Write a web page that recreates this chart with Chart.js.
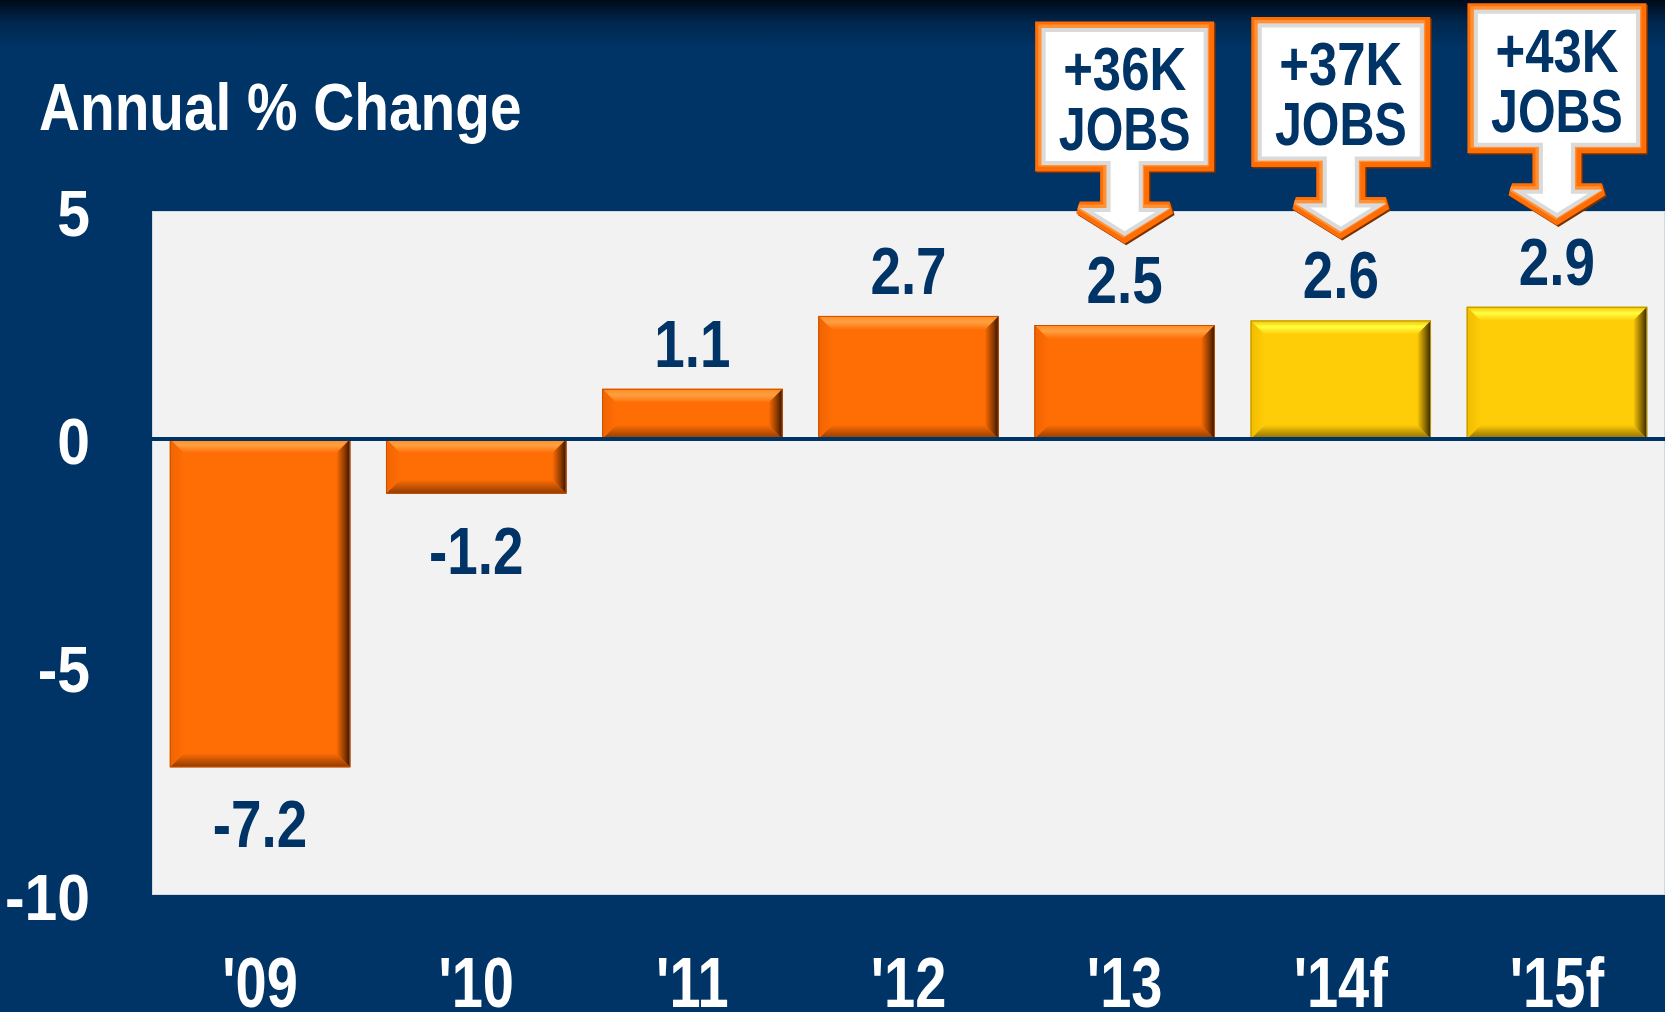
<!DOCTYPE html>
<html>
<head>
<meta charset="utf-8">
<script src="https://cdn.jsdelivr.net/npm/chart.js@4/dist/chart.umd.min.js"></script>
<style>
  html, body { margin: 0; padding: 0; }
  body {
    width: 1665px; height: 1012px; overflow: hidden;
    background: linear-gradient(to bottom, #000a18 0px, #00264d 22px, #003366 48px, #003366 100%);
  }
  #wrap { position: absolute; left: 0; top: 0; width: 1665px; height: 1012px; }
</style>
</head>
<body>
<div id="wrap"><canvas id="c" width="1665" height="1012"></canvas></div>
<script>
// ---- data ----
const categories = ["'09", "'10", "'11", "'12", "'13", "'14f", "'15f"];
const values = [-7.2, -1.2, 1.1, 2.7, 2.5, 2.6, 2.9];
const barKinds = ['actual', 'actual', 'actual', 'actual', 'actual', 'forecast', 'forecast'];
const calloutTop = ['', '', '', '', '+36K', '+37K', '+43K'];
const calloutBottom = ['', '', '', '', 'JOBS', 'JOBS', 'JOBS'];
const yTickValues = [5, 0, -5, -10];
const chartTitle = 'Annual % Change';

// ---- styles ----
const FONT = '"Liberation Sans", Arial, sans-serif';
const NAVY = '#003366';
const palettes = {
  actual:   { base: '#ff6d05', hi: '#ffa040', topEdge: '#ff8a20', left: '#f06400', bottom: '#8c3a00', right: '#2e1200', outline: '#c85000' },
  forecast: { base: '#ffcc08', hi: '#ffff40', topEdge: '#f0c000', left: '#f0bc00', bottom: '#8a6a00', right: '#2e2400', outline: '#b89000' }
};

// draws text horizontally condensed (narrow-face look)
function narrowText(ctx, txt, x, y, size, sx, align, color) {
  ctx.save();
  ctx.translate(x, y);
  ctx.scale(sx, 1);
  ctx.font = 'bold ' + size + 'px ' + FONT;
  ctx.fillStyle = color;
  ctx.textAlign = align;
  ctx.textBaseline = 'alphabetic';
  ctx.fillText(txt, 0, 0);
  ctx.restore();
}

function poly(ctx, pts, fill) {
  ctx.beginPath();
  ctx.moveTo(pts[0][0], pts[0][1]);
  for (let k = 1; k < pts.length; k++) ctx.lineTo(pts[k][0], pts[k][1]);
  ctx.closePath();
  ctx.fillStyle = fill;
  ctx.fill();
}

const plotBgPlugin = {
  id: 'plotBg',
  beforeDraw(chart) {
    const { ctx, chartArea: a } = chart;
    ctx.save();
    ctx.fillStyle = '#f2f2f2';
    ctx.fillRect(a.left, a.top, a.right - a.left, a.bottom - a.top);
    ctx.strokeStyle = 'rgba(200,210,225,0.8)';
    ctx.lineWidth = 1;
    ctx.strokeRect(a.left + 0.5, a.top + 0.5, a.right - a.left - 1, a.bottom - a.top - 1);
    ctx.restore();
    narrowText(ctx, chartTitle, 39, 130, 66, 0.86, 'left', '#ffffff');
  }
};

const axisLabelPlugin = {
  id: 'axisLabels',
  afterDraw(chart) {
    const ctx = chart.ctx;
    const xs = chart.scales.x, ys = chart.scales.y;
    categories.forEach((c, i) => {
      narrowText(ctx, c, xs.getPixelForTick(i), 1007, 70, 0.80, 'center', '#ffffff');
    });
    yTickValues.forEach(v => {
      narrowText(ctx, String(v), 90, ys.getPixelForValue(v) + 25, 64, 0.92, 'right', '#ffffff');
    });
  }
};

const bevelPlugin = {
  id: 'bevel',
  afterDatasetsDraw(chart) {
    const ctx = chart.ctx;
    const meta = chart.getDatasetMeta(0);
    ctx.save();
    meta.data.forEach((bar, i) => {
      const p = bar.getProps(['x', 'y', 'base', 'width'], true);
      const l = p.x - p.width / 2, r = p.x + p.width / 2;
      const t = Math.min(p.y, p.base), b = Math.max(p.y, p.base);
      const s = Math.min(14, (b - t) / 2.2);
      const pal = palettes[barKinds[i]];
      let g = ctx.createLinearGradient(0, t, 0, t + s);
      g.addColorStop(0, pal.topEdge); g.addColorStop(0.45, pal.hi); g.addColorStop(1, pal.base);
      poly(ctx, [[l, t], [r, t], [r - s, t + s], [l + s, t + s]], g);
      g = ctx.createLinearGradient(0, b - s, 0, b);
      g.addColorStop(0, pal.base); g.addColorStop(1, pal.bottom);
      poly(ctx, [[l, b], [r, b], [r - s, b - s], [l + s, b - s]], g);
      g = ctx.createLinearGradient(l, 0, l + s, 0);
      g.addColorStop(0, pal.left); g.addColorStop(1, pal.base);
      poly(ctx, [[l, t], [l + s, t + s], [l + s, b - s], [l, b]], g);
      g = ctx.createLinearGradient(r - s, 0, r, 0);
      g.addColorStop(0, pal.base); g.addColorStop(0.6, pal.bottom); g.addColorStop(1, pal.right);
      poly(ctx, [[r, t], [r - s, t + s], [r - s, b - s], [r, b]], g);
      ctx.strokeStyle = pal.outline;
      ctx.lineWidth = 1;
      ctx.strokeRect(l + 0.5, t + 0.5, r - l - 1, b - t - 1);
    });
    ctx.restore();
  }
};

const zeroLinePlugin = {
  id: 'zeroLine',
  afterDatasetsDraw(chart) {
    const { ctx, chartArea: a } = chart;
    const y0 = chart.scales.y.getPixelForValue(0);
    ctx.save();
    ctx.fillStyle = NAVY;
    ctx.fillRect(a.left, y0 - 2, a.right - a.left, 4);
    ctx.restore();
  }
};

const valueLabelPlugin = {
  id: 'valueLabels',
  afterDatasetsDraw(chart) {
    const ctx = chart.ctx;
    const meta = chart.getDatasetMeta(0);
    meta.data.forEach((bar, i) => {
      const p = bar.getProps(['x', 'y', 'base'], true);
      const v = values[i];
      const txt = v.toFixed(1);
      const y = v >= 0 ? Math.min(p.y, p.base) - 22 : Math.max(p.y, p.base) + 80;
      narrowText(ctx, txt, p.x, y, 66, 0.83, 'center', NAVY);
    });
  }
};

const calloutPlugin = {
  id: 'callouts',
  afterDraw(chart) {
    const ctx = chart.ctx;
    const meta = chart.getDatasetMeta(0);
    meta.data.forEach((bar, i) => {
      if (!calloutTop[i]) return;
      const p = bar.getProps(['x', 'y', 'base'], true);
      const cx = p.x;
      const top = Math.min(p.y, p.base);
      const tip = top - 89;
      const headTop = top - 117;
      const boxB = top - 160;
      const boxT = top - 297;
      const bw = 83, sw = 18, hw = 45;
      const pts = [
        [cx - bw, boxT], [cx + bw, boxT], [cx + bw, boxB], [cx + sw, boxB], [cx + sw, headTop],
        [cx + hw, headTop], [cx, tip], [cx - hw, headTop], [cx - sw, headTop], [cx - sw, boxB], [cx - bw, boxB]
      ];
      const path = (dx, dy) => {
        ctx.beginPath();
        ctx.moveTo(pts[0][0] + dx, pts[0][1] + dy);
        for (let k = 1; k < pts.length; k++) ctx.lineTo(pts[k][0] + dx, pts[k][1] + dy);
        ctx.closePath();
      };
      ctx.save();
      ctx.lineJoin = 'miter';
      ctx.miterLimit = 1.6;
      path(1.5, 1.5);
      ctx.strokeStyle = '#7a3000';
      ctx.lineWidth = 13;
      ctx.stroke();
      path(0, 0);
      ctx.strokeStyle = '#ff6d05';
      ctx.lineWidth = 13;
      ctx.stroke();
      path(-1, -1);
      ctx.strokeStyle = 'rgba(255,150,60,0.9)';
      ctx.lineWidth = 5;
      ctx.stroke();
      path(0, 0);
      ctx.fillStyle = '#ffffff';
      ctx.fill();
      path(0, 0);
      ctx.save();
      ctx.clip();
      path(0, 0);
      ctx.strokeStyle = 'rgba(150,150,150,0.35)';
      ctx.lineWidth = 8;
      ctx.stroke();
      ctx.restore();
      ctx.restore();
      narrowText(ctx, calloutTop[i], cx, top - 235, 62, 0.82, 'center', NAVY);
      narrowText(ctx, calloutBottom[i], cx, top - 175, 62, 0.78, 'center', NAVY);
    });
  }
};

new Chart(document.getElementById('c'), {
  type: 'bar',
  data: {
    labels: categories,
    datasets: [{
      data: values,
      backgroundColor: barKinds.map(k => palettes[k].base),
      borderWidth: 0,
      barPercentage: 1,
      categoryPercentage: 0.835
    }]
  },
  options: {
    responsive: false,
    animation: false,
    devicePixelRatio: 1,
    layout: { padding: { top: 211, right: 0, bottom: 0, left: 0 } },
    plugins: { legend: { display: false }, tooltip: { enabled: false }, title: { display: false } },
    scales: {
      x: {
        grid: { display: false, drawTicks: false },
        border: { display: false },
        ticks: { display: false },
        afterFit(scale) { scale.height = 117; }
      },
      y: {
        min: -10, max: 5,
        grid: { display: false, drawTicks: false },
        border: { display: false },
        afterBuildTicks(scale) { scale.ticks = yTickValues.map(v => ({ value: v })); },
        ticks: { display: false },
        afterFit(scale) { scale.width = 152; }
      }
    }
  },
  plugins: [plotBgPlugin, bevelPlugin, zeroLinePlugin, valueLabelPlugin, calloutPlugin, axisLabelPlugin]
});
</script>
</body>
</html>
